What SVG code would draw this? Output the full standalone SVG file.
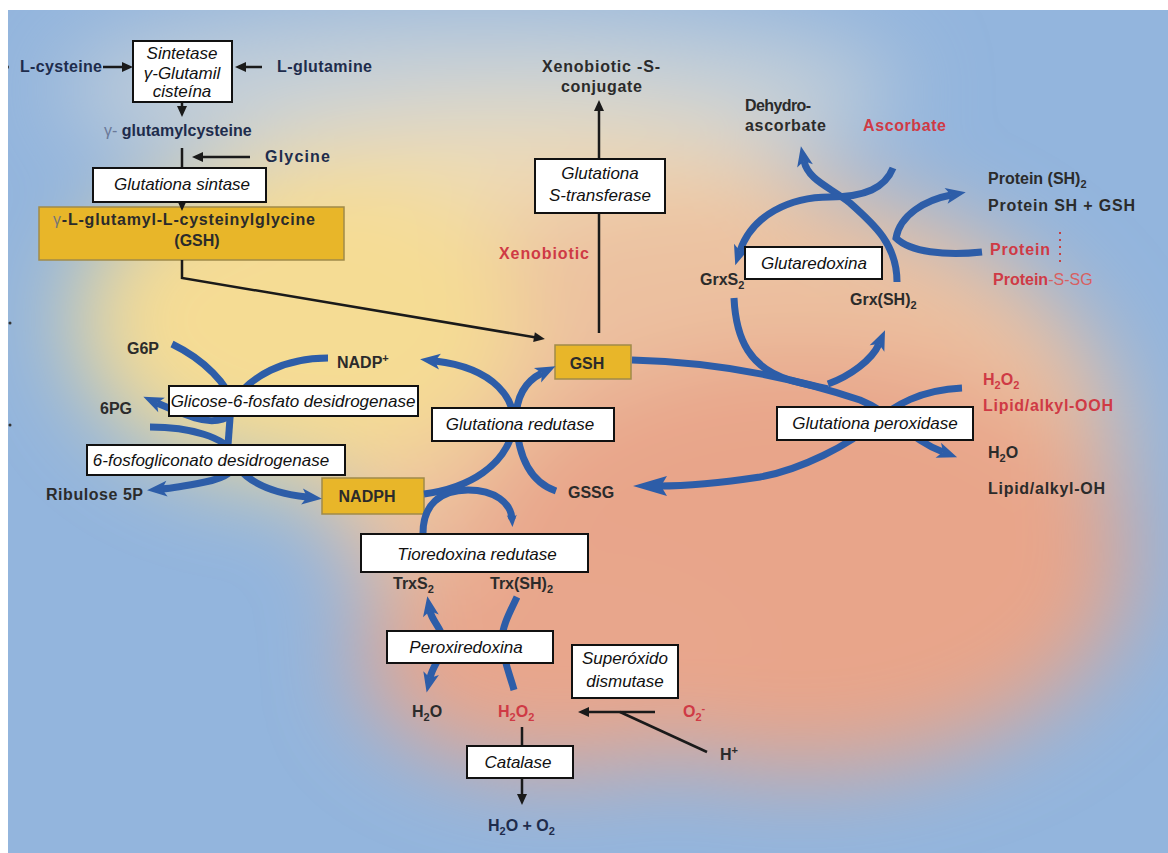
<svg xmlns="http://www.w3.org/2000/svg" width="1168" height="853" viewBox="0 0 1168 853">
<style>
.lb{font-family:"Liberation Sans",Arial,sans-serif;font-weight:bold;font-size:16px;fill:#2b2b2b}
.nv{fill:#1e2c4c}
.rd{fill:#cf3a45}
.bx{font-family:"Liberation Sans",Arial,sans-serif;font-style:italic;font-size:17px;fill:#111;text-anchor:middle}
.box{fill:#fff;stroke:#111;stroke-width:2}
.yb{fill:#e8b629;stroke:#a08a4a;stroke-width:1.5}
.bl{fill:none;stroke:#2d5da8;stroke-width:7}
.bk{fill:none;stroke:#1a1a1a;stroke-width:2.5}
.sub{font-size:11px}
</style>
<defs>
<clipPath id="clip"><rect x="8" y="10" width="1160" height="843"/></clipPath>
<filter id="blur" x="-40%" y="-40%" width="180%" height="180%"><feGaussianBlur stdDeviation="45"/></filter>
<marker id="ab" viewBox="-20 -10 24 20" refX="-13" refY="0" markerWidth="24" markerHeight="20" markerUnits="userSpaceOnUse" orient="auto"><path d="M2,0 L-18,-8 L-13,0 L-18,8 Z" fill="#2d5da8"/></marker>
<marker id="ab2" viewBox="-20 -10 24 20" refX="-13" refY="0" markerWidth="24" markerHeight="20" markerUnits="userSpaceOnUse" orient="auto-start-reverse"><path d="M2,0 L-18,-8 L-13,0 L-18,8 Z" fill="#2d5da8"/></marker>
<marker id="abl" viewBox="-36 -12 40 24" refX="-24" refY="0" markerWidth="40" markerHeight="24" markerUnits="userSpaceOnUse" orient="auto"><path d="M2,0 L-32,-10 L-26,0 L-32,10 Z" fill="#2d5da8"/></marker>
<marker id="abs" viewBox="-12 -6 14 12" refX="-6" refY="0" markerWidth="14" markerHeight="12" markerUnits="userSpaceOnUse" orient="auto"><path d="M2,0 L-10,-5 L-7,0 L-10,5 Z" fill="#2d5da8"/></marker>
<marker id="ak" viewBox="-12 -6 14 12" refX="-8" refY="0" markerWidth="14" markerHeight="12" markerUnits="userSpaceOnUse" orient="auto"><path d="M1,0 L-10,-5 L-10,5 Z" fill="#1a1a1a"/></marker>
</defs>
<rect width="1168" height="853" fill="#fff"/>
<g id="background" clip-path="url(#clip)">
<rect x="8" y="10" width="1160" height="843" fill="#93b5dd"/>
<g filter="url(#blur)">
<ellipse cx="480" cy="90" rx="420" ry="80" fill="#c6d0d8"/>
<ellipse cx="520" cy="230" rx="330" ry="120" fill="#eedcb6"/>
<ellipse cx="720" cy="450" rx="400" ry="270" fill="#ecc1a0"/>
<ellipse cx="800" cy="560" rx="330" ry="210" fill="#e8a58a"/>
<ellipse cx="300" cy="320" rx="225" ry="160" fill="#f5dc94"/>
<ellipse cx="560" cy="660" rx="200" ry="110" fill="#e8a68c"/>
</g>
<ellipse cx="7" cy="67" rx="2" ry="2" fill="#333"/>
<ellipse cx="10" cy="323" rx="1.5" ry="1.5" fill="#333"/>
<ellipse cx="10" cy="425" rx="1.5" ry="1.5" fill="#333"/>
</g>

<g id="node-gsh-full"><rect class="yb" x="39" y="207" width="305" height="53"/>
<text class="lb" x="53" y="225" textLength="262" font-size="17"><tspan fill="#777" font-weight="normal">γ</tspan>-L-glutamyl-L-cysteinylglycine</text>
<text class="lb" x="197" y="246" text-anchor="middle">(GSH)</text></g>
<g id="node-gsh"><rect class="yb" x="555" y="345" width="76" height="34"/><text class="lb" x="587" y="369" text-anchor="middle" fill="#4a3a20">GSH</text></g>
<g id="node-nadph"><rect class="yb" x="322" y="478" width="102" height="36"/><text class="lb" x="367" y="502" text-anchor="middle" fill="#4a3a20">NADPH</text></g>

<g id="connectors">
<path class="bk" d="M103,67 L124,67" marker-end="url(#ak)"/>
<path class="bk" d="M262,67 L244,67" marker-end="url(#ak)"/>
<path class="bk" d="M182,102 L182,108" marker-end="url(#ak)"/>
<path class="bk" d="M182,148 L182,202" marker-end="url(#ak)"/>
<path class="bk" d="M250,157 L201,157" marker-end="url(#ak)"/>
<path class="bk" d="M182,260 L182,278 L536,337.5" marker-end="url(#ak)"/>
<path class="bk" d="M599,333 L599,109" marker-end="url(#ak)"/>
<path class="bk" d="M655,712 L587,712" marker-end="url(#ak)"/>
<path class="bk" d="M620,712 L707,752"/>
<path class="bk" d="M522,727 L522,796" marker-end="url(#ak)"/>
<path d="M1060,232 L1060,266" fill="none" stroke="#c84040" stroke-width="2" stroke-dasharray="2 5"/>
<path class="bl" d="M897,282 C897,245 875,225 850,203 C830,187 808,180 804,161" marker-end="url(#ab)"/>
<path class="bl" d="M893,168 C885,188 865,197 830,197 C790,197 752,215 740,251" marker-end="url(#ab)"/>
<path class="bl" d="M734,298 C736,340 750,368 790,380 C805,384 815,386 828,389"/>
<path class="bl" d="M828,384 C850,376 872,360 879,344" marker-end="url(#ab)"/>
<path class="bl" d="M982,252 C945,256 910,252 896,238 C900,215 925,200 951,195" marker-end="url(#ab)"/>
<path class="bl" d="M632,360 C720,362 800,380 860,400 C893,413 910,440 943,452" marker-end="url(#ab)"/>
<path class="bl" d="M962,388 C920,390 895,405 875,422 C850,445 800,470 760,477 C720,483 690,486 659,486" marker-end="url(#abl)"/>
<path class="bl" d="M328,358 C285,358 250,375 231,405"/>
<path class="bl" d="M231,405 L228,445" stroke-width="3"/>
<path class="bl" d="M228,445 C234,476 262,492 307,497" marker-end="url(#ab)"/>
<path class="bl" d="M172,344 C205,360 228,385 232,403 C236,420 215,424 195,418 C180,413 168,408 157,403" marker-end="url(#ab)"/>
<path class="bl" d="M150,427 C190,427 225,437 235,455 C240,470 225,478 205,482 C190,485 175,488 162,489" marker-end="url(#ab)"/>
<path class="bl" d="M424,494 C470,488 505,465 513,430 C518,400 495,368 435,361" marker-end="url(#ab)"/>
<path class="bl" d="M556,491 C530,482 518,455 516,420 C516,398 524,382 542,373" marker-end="url(#ab)"/>
<path class="bl" stroke-width="5" d="M423,533 C423,505 440,490 468,490 C495,490 511,503 512,519" marker-end="url(#abs)"/>
<path class="bl" d="M430,611 C432,622 446,632 443,647 C440,660 433,665 430,678" marker-start="url(#ab2)" marker-end="url(#ab2)"/>
<path class="bl" stroke-width="6" d="M517,597 C510,612 502,626 502,640 C503,660 510,675 514,690"/>
</g>

<g id="enz-gcs"><rect class="box" x="133" y="41" width="99" height="61"/>
<text class="bx" font-size="14.5"><tspan x="182" y="59">Sintetase</tspan><tspan x="182" y="79">γ-Glutamil</tspan><tspan x="182" y="97">cisteína</tspan></text></g>
<g id="enz-gs"><rect class="box" x="93" y="168" width="173" height="34"/><text class="bx" x="182" y="190">Glutationa sintase</text></g>
<g id="enz-gst"><rect class="box" x="535" y="159" width="130" height="54"/><text class="bx"><tspan x="600" y="179">Glutationa</tspan><tspan x="600" y="201">S-transferase</tspan></text></g>
<g id="enz-grx"><rect class="box" x="745" y="247" width="137" height="32"/><text class="bx" x="814" y="269">Glutaredoxina</text></g>
<g id="enz-g6pd"><rect class="box" x="169" y="386" width="249" height="30"/><text class="bx" x="293" y="407">Glicose-6-fosfato desidrogenase</text></g>
<g id="enz-6pgd"><rect class="box" x="87" y="445" width="258" height="30"/><text class="bx" x="211" y="466">6-fosfogliconato desidrogenase</text></g>
<g id="enz-gr"><rect class="box" x="432" y="408" width="182" height="33"/><text class="bx" x="520" y="430">Glutationa redutase</text></g>
<g id="enz-gpx"><rect class="box" x="777" y="407" width="196" height="33"/><text class="bx" x="875" y="429">Glutationa peroxidase</text></g>
<g id="enz-trxr"><rect class="box" x="361" y="534" width="227" height="38"/><text class="bx" x="477" y="560" font-size="19">Tioredoxina redutase</text></g>
<g id="enz-prx"><rect class="box" x="387" y="631" width="166" height="32"/><text class="bx" x="466" y="653" font-size="19">Peroxiredoxina</text></g>
<g id="enz-sod"><rect class="box" x="572" y="645" width="106" height="53"/><text class="bx" font-size="16"><tspan x="625" y="664">Superóxido</tspan><tspan x="625" y="687">dismutase</tspan></text></g>
<g id="enz-cat"><rect class="box" x="467" y="746" width="106" height="32"/><text class="bx" x="518" y="768" font-size="19">Catalase</text></g>

<g id="labels">
<g id="n-lcys"><text class="lb nv" x="20" y="72" textLength="82">L-cysteine</text></g>
<g id="n-lglu"><text class="lb nv" x="277" y="72" textLength="95">L-glutamine</text></g>
<g id="n-gglucys"><text class="lb nv" x="104" y="136" font-size="17"><tspan fill="#6a7898" font-weight="normal">γ-</tspan> glutamylcysteine</text></g>
<g id="n-gly"><text class="lb nv" x="265" y="162" textLength="65">Glycine</text></g>
<g id="n-xsc"><text class="lb" x="542" y="72" textLength="118">Xenobiotic -S-</text><text class="lb" x="561" y="92" textLength="81">conjugate</text></g>
<g id="n-dha"><text class="lb" x="745" y="111" textLength="66">Dehydro-</text><text class="lb" x="745" y="131" textLength="81">ascorbate</text></g>
<g id="n-asc"><text class="lb rd" x="863" y="131" textLength="83">Ascorbate</text></g>
<g id="n-xen"><text class="lb rd" x="499" y="259" textLength="90">Xenobiotic</text></g>
<g id="n-psh2"><text class="lb" x="988" y="184">Protein (SH)<tspan class="sub" dy="4">2</tspan></text></g>
<g id="n-pshgsh"><text class="lb" x="988" y="211" textLength="147">Protein SH + GSH</text></g>
<g id="n-prot"><text class="lb rd" x="990" y="255" textLength="60">Protein</text></g>
<g id="n-pssg"><text class="lb rd" x="993" y="285">Protein<tspan font-weight="normal" fill="#d86060">-S-SG</tspan></text></g>
<g id="n-grxs2"><text class="lb" x="700" y="285">GrxS<tspan class="sub" dy="4">2</tspan></text></g>
<g id="n-grxsh2"><text class="lb" x="850" y="305">Grx(SH)<tspan class="sub" dy="4">2</tspan></text></g>
<g id="n-h2o2a"><text class="lb rd" x="983" y="385">H<tspan class="sub" dy="4">2</tspan><tspan dy="-4">O</tspan><tspan class="sub" dy="4">2</tspan></text></g>
<g id="n-looh"><text class="lb rd" x="983" y="411" textLength="130">Lipid/alkyl-OOH</text></g>
<g id="n-h2oa"><text class="lb" x="988" y="458">H<tspan class="sub" dy="4">2</tspan><tspan dy="-4">O</tspan></text></g>
<g id="n-loh"><text class="lb" x="988" y="494" textLength="117">Lipid/alkyl-OH</text></g>
<g id="n-g6p"><text class="lb" x="127" y="354">G6P</text></g>
<g id="n-nadp"><text class="lb" x="337" y="368">NADP<tspan class="sub" dy="-6">+</tspan></text></g>
<g id="n-6pg"><text class="lb" x="100" y="414">6PG</text></g>
<g id="n-ru5p"><text class="lb" x="46" y="500" textLength="97">Ribulose 5P</text></g>
<g id="n-gssg"><text class="lb" x="568" y="498" fill="#3a2a2a">GSSG</text></g>
<g id="n-trxs2"><text class="lb" x="393" y="589" fill="#3a2a2a">TrxS<tspan class="sub" dy="4">2</tspan></text></g>
<g id="n-trxsh2"><text class="lb" x="490" y="589" fill="#3a2a2a">Trx(SH)<tspan class="sub" dy="4">2</tspan></text></g>
<g id="n-h2ob"><text class="lb" x="412" y="717" fill="#3a2a2a">H<tspan class="sub" dy="4">2</tspan><tspan dy="-4">O</tspan></text></g>
<g id="n-h2o2b"><text class="lb rd" x="498" y="717">H<tspan class="sub" dy="4">2</tspan><tspan dy="-4">O</tspan><tspan class="sub" dy="4">2</tspan></text></g>
<g id="n-o2"><text class="lb rd" x="683" y="717">O<tspan class="sub" dy="4">2</tspan><tspan class="sub" dy="-9">-</tspan></text></g>
<g id="n-hplus"><text class="lb" x="720" y="760" fill="#3a2a2a">H<tspan class="sub" dy="-6">+</tspan></text></g>
<g id="n-h2oo2"><text class="lb nv" x="488" y="831">H<tspan class="sub" dy="4">2</tspan><tspan dy="-4">O + O</tspan><tspan class="sub" dy="4">2</tspan></text></g>
</g>
</svg>
